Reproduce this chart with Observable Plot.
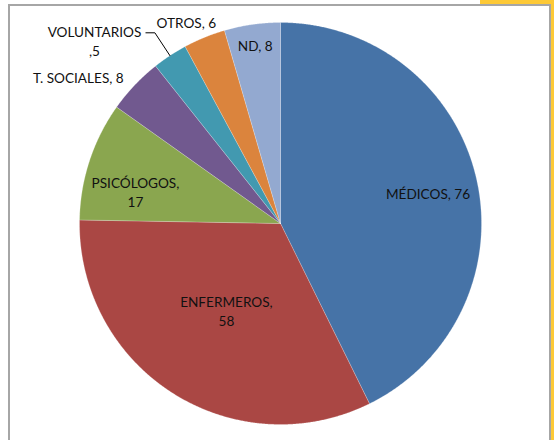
<!DOCTYPE html>
<html><head><meta charset="utf-8">
<script src="https://cdn.jsdelivr.net/npm/d3@7"></script>
<script src="https://cdn.jsdelivr.net/npm/@observablehq/plot@0.6"></script>
<style>
body{margin:0;background:#fff}
#wrap{position:relative;width:554px;height:440px;overflow:hidden;background:#fff}
#wrap svg{position:absolute;left:0;top:0}
.frame{position:absolute;left:8px;top:4px;width:543px;height:450px;border-left:2px solid #a6a6a6;border-top:2px solid #a6a6a6;border-right:2px solid #a6a6a6;box-sizing:border-box}
.ytop{position:absolute;left:480px;top:0;width:74px;height:4px;background:#fdc936}
.yright{position:absolute;left:551px;top:0;width:3px;height:440px;background:#fdc936}
</style></head>
<body><div id="wrap"><div class="ytop"></div><div class="yright"></div><div class="frame"></div></div>
<script>
// ---- data ----
const categories = ["MÉDICOS", "ENFERMEROS", "PSICÓLOGOS", "T. SOCIALES", "VOLUNTARIOS", "OTROS", "ND"];
const values = [76, 58, 17, 8, 5, 6, 8];
const labelTexts = ["MÉDICOS, 76", "ENFERMEROS,\n58", "PSICÓLOGOS,\n17", "T. SOCIALES, 8", "VOLUNTARIOS\n,5", "OTROS, 6", "ND, 8"];
const colors = ["#4673a7", "#aa4744", "#8aa64f", "#71598f", "#4299b0", "#db843d", "#93a9d0"];
// ---- layout (label placement relative to each slice's mid angle) ----
const labelR = [0.75, 0.51, 0.739, 1.243, 1.298, 1.108, 0.895];
const labelDA = [1.3, -0.5, -5.8, -7.5, -12.1, -2.75, 0];
const leaderSlice = 4; // VOLUNTARIOS has a leader line
const W = 554, H = 440, CX = 280, CY = 223, R = 201;

const slices = d3.pie().sort(null).value(d => d)(values);
const wedge = [];
slices.forEach((s, i) => {
  const cat = categories[i];
  const n = Math.max(2, Math.ceil((s.endAngle - s.startAngle) / 0.005));
  wedge.push({cat, x: 0, y: 0});
  for (let k = 0; k <= n; k++) {
    const a = s.startAngle + (s.endAngle - s.startAngle) * k / n;
    wedge.push({cat, x: Math.sin(a), y: Math.cos(a)});
  }
  wedge.push({cat, x: 0, y: 0});
});
const mid = slices.map(s => (s.startAngle + s.endAngle) / 2);
const labels = slices.map((s, i) => {
  const a = mid[i] + labelDA[i] * Math.PI / 180;
  return {text: labelTexts[i], x: labelR[i] * Math.sin(a), y: labelR[i] * Math.cos(a)};
});
const am = mid[leaderSlice];
const elbow = {x: 1.136 * Math.sin(am), y: 1.136 * Math.cos(am)};
const leader = [
  {x: Math.sin(am), y: Math.cos(am)},
  elbow,
  {x: elbow.x - 9 / R, y: elbow.y}
];

const chart = Plot.plot({
  width: W, height: H,
  margin: 0,
  x: {domain: [-CX / R, (W - CX) / R], axis: null},
  y: {domain: [-(H - CY) / R, CY / R], axis: null},
  color: {domain: categories, range: colors},
  style: {fontFamily: "Lato, sans-serif", background: "transparent"},
  marks: [
    Plot.line(wedge, {x: "x", y: "y", z: "cat", fill: "cat", stroke: "#ffffff", strokeOpacity: 0.35, strokeWidth: 0.6, curve: "linear"}),
    Plot.line(leader, {x: "x", y: "y", stroke: "#000", strokeWidth: 1}),
    Plot.text(labels, {x: "x", y: "y", text: "text", fontSize: 13.6, lineHeight: 1.38, fill: "#111"})
  ]
});
document.getElementById("wrap").prepend(chart);
</script>
</body></html>
